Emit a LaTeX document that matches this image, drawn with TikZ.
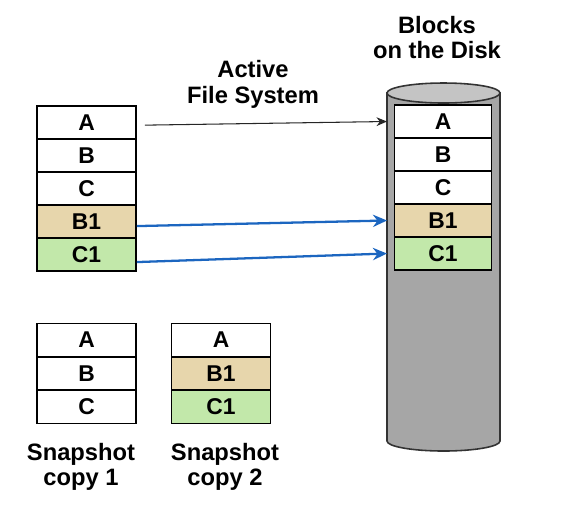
\documentclass[tikz,border=0pt]{standalone}
\usepackage{fontspec}
\setmainfont{Liberation Sans}
\usepackage{xcolor}
\usepackage{tikz}
\usetikzlibrary{positioning, arrows.meta, calc}
\definecolor{BlockTan}{RGB}{231,214,172}
\definecolor{BlockGreen}{RGB}{194,232,170}
\definecolor{LinkBlue}{RGB}{28,102,192}
\definecolor{DiskGray}{RGB}{166,166,166}
\definecolor{DiskTop}{RGB}{196,196,196}
\tikzset{
  blk/.style={draw=black, line width=1.1pt, fill=white, minimum width=1.98cm, minimum height=0.66cm,
    inner sep=0pt, font=\fontsize{13}{14}\selectfont\bfseries},
  blkB/.style={blk, fill=BlockTan},
  blkC/.style={blk, fill=BlockGreen},
  dblk/.style={blk, minimum width=1.94cm},
  caption/.style={font=\fontsize{13.5}{14.5}\selectfont\bfseries, align=center},
  ptrarrow/.style={-{Stealth[length=6pt,width=5pt]}, line width=0.6pt, black!85},
  newarrow/.style={-{Stealth[length=8pt,width=7pt]}, line width=1.3pt, LinkBlue},
  diskbody/.style={draw=black!80, line width=0.9pt, fill=DiskGray},
  disktop/.style={draw=black!80, line width=0.9pt, fill=DiskTop},
}

\begin{document}
\begin{tikzpicture}[x=0.02cm, y=-0.02cm]
  \useasboundingbox (0,0) rectangle (564,512);

  \draw[diskbody] (387,93) -- (387,441) arc[start angle=180, end angle=0, x radius=56.5, y radius=10] -- (500,93) -- cycle;
  \draw[disktop] (443.5,93) ellipse[x radius=56.5, y radius=10];
  \coordinate (cylL) at (387,93);

  \node[blk]  (actA)  at (86.5,122.5) {A};
  \node[blk]  (actB)  at (86.5,155.5) {B};
  \node[blk]  (actC)  at (86.5,188.5) {C};
  \node[blkB] (actB1) at (86.5,221.5) {B1};
  \node[blkC] (actC1) at (86.5,254.5) {C1};

  \node[dblk]  (dskA)  at (443,121.5) {A};
  \node[dblk]  (dskB)  at (443,154.5) {B};
  \node[dblk]  (dskC)  at (443,187.5) {C};
  \node[dblk, fill=BlockTan]   (dskB1) at (443,220.5) {B1};
  \node[dblk, fill=BlockGreen] (dskC1) at (443,253.5) {C1};

  \node[blk]  (snapA)  at (86.5,340) {A};
  \node[blk]  (snapB)  at (86.5,373.5) {B};
  \node[blk]  (snapC)  at (86.5,407) {C};

  \node[blk]  (snapxA)  at (221,340) {A};
  \node[blkB] (snapxB1) at (221,373.5) {B1};
  \node[blkC] (snapxC1) at (221,407) {C1};

  \node[caption] (afs)   at (253,84.5) {Active\\File System};
  \node[caption] (disk)  at (437,37.5) {Blocks\\on the Disk};
  \node[caption] (snap1) at (81,467) {Snapshot\\copy 1};
  \node[caption] (snap2) at (225,467) {Snapshot\\copy 2};

  \draw[ptrarrow] ([xshift=4.5pt,yshift=-1.5pt]actA.east) -- (dskA.west -| cylL);
  \draw[newarrow] ([yshift=-2.6pt]actB1.east) -- (dskB1.west -| cylL);
  \draw[newarrow] ([yshift=-4.3pt]actC1.east) -- (dskC1.west -| cylL);
\end{tikzpicture}
\end{document}
